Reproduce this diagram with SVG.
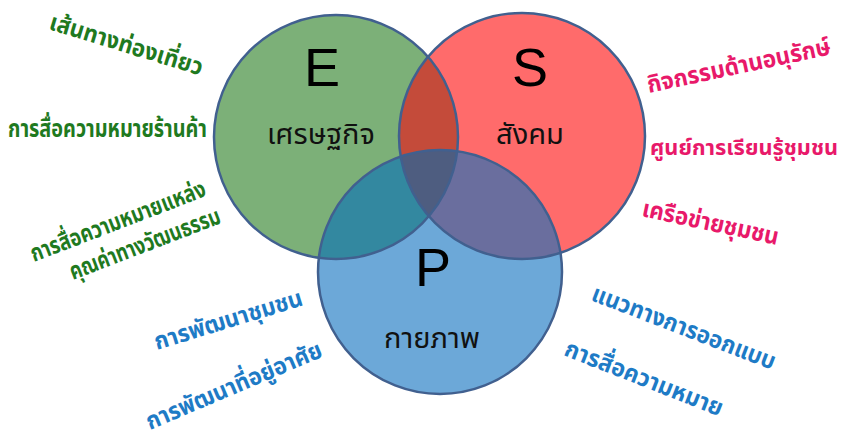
<svg xmlns="http://www.w3.org/2000/svg" width="846" height="439" viewBox="0 0 846 439">
<style>
.fillE{fill:#7CB078}
.fillS{fill:#FF6B6B}
.fillP{fill:#6CA8D8}
.ring{fill:none;stroke:#41608F;stroke-width:2.5}
.big{font-family:"Liberation Sans",Arial,sans-serif;font-size:54px;fill:#000;text-anchor:middle}
.name{font-family:"Noto Sans Thai","Noto Sans","DejaVu Sans",sans-serif;font-size:29px;fill:#111;text-anchor:middle}
.lbl{font-family:"Noto Sans Thai","Noto Sans","DejaVu Sans",sans-serif;font-weight:bold;font-size:24px}
.g{fill:#1F7A1F}
.r{fill:#E8196A}
.b{fill:#1E7BC6}
</style>
<defs>
<clipPath id="cE"><circle cx="336" cy="137" r="122"/></clipPath>
<clipPath id="cS"><circle cx="522" cy="136" r="123"/></clipPath>
<clipPath id="cP"><circle cx="440" cy="272" r="122"/></clipPath>
</defs>
<g id="fills">
<circle class="fillE" cx="336" cy="137" r="122"/>
<circle class="fillS" cx="522" cy="136" r="123"/>
<circle class="fillP" cx="440" cy="272" r="122"/>
<circle cx="522" cy="136" r="123" fill="#C44B3A" clip-path="url(#cE)"/>
<circle cx="440" cy="272" r="122" fill="#3388A0" clip-path="url(#cE)"/>
<circle cx="440" cy="272" r="122" fill="#6A6E9E" clip-path="url(#cS)"/>
<g clip-path="url(#cE)"><circle cx="440" cy="272" r="122" fill="#4E5D80" clip-path="url(#cS)"/></g>
</g>
<g id="node-E">
<circle class="ring" cx="336" cy="137" r="122"/>
<text class="big" x="322" y="86">E</text>
<text class="name" x="321" y="144">เศรษฐกิจ</text>
</g>
<g id="node-S">
<circle class="ring" cx="522" cy="136" r="123"/>
<text class="big" x="530" y="86">S</text>
<text class="name" x="530" y="144">สังคม</text>
</g>
<g id="node-P">
<circle class="ring" cx="440" cy="272" r="122"/>
<text class="big" x="433" y="286">P</text>
<text class="name" x="432" y="348">กายภาพ</text>
</g>
<g id="connectors"></g>
<g id="labels">
<text class="lbl g" transform="translate(48,29) rotate(17)" textLength="159" lengthAdjust="spacingAndGlyphs">เส้นทางท่องเที่ยว</text>
<text class="lbl g" x="8" y="137" textLength="199" lengthAdjust="spacingAndGlyphs">การสื่อความหมายร้านค้า</text>
<text class="lbl g" transform="translate(34,262) rotate(-21)" textLength="186" lengthAdjust="spacingAndGlyphs">การสื่อความหมายแหล่ง</text>
<text class="lbl g" transform="translate(73,280) rotate(-21)" textLength="160" lengthAdjust="spacingAndGlyphs">คุณค่าทางวัฒนธรรม</text>
<text class="lbl r" transform="translate(649,93) rotate(-12)" textLength="187" lengthAdjust="spacingAndGlyphs">กิจกรรมด้านอนุรักษ์</text>
<text class="lbl r" x="650" y="155" font-size="22" style="font-size:22px" textLength="188" lengthAdjust="spacingAndGlyphs">ศูนย์การเรียนรู้ชุมชน</text>
<text class="lbl r" transform="translate(641,216) rotate(12)" textLength="139" lengthAdjust="spacingAndGlyphs">เครือข่ายชุมชน</text>
<text class="lbl b" transform="translate(157,350) rotate(-17)" textLength="154" lengthAdjust="spacingAndGlyphs">การพัฒนาชุมชน</text>
<text class="lbl b" transform="translate(150,430) rotate(-23)" textLength="189" lengthAdjust="spacingAndGlyphs">การพัฒนาที่อยู่อาศัย</text>
<text class="lbl b" transform="translate(590,300) rotate(21)" textLength="195" lengthAdjust="spacingAndGlyphs">แนวทางการออกแบบ</text>
<text class="lbl b" transform="translate(563,355) rotate(21.5)" textLength="168" lengthAdjust="spacingAndGlyphs">การสื่อความหมาย</text>
</g>
</svg>
